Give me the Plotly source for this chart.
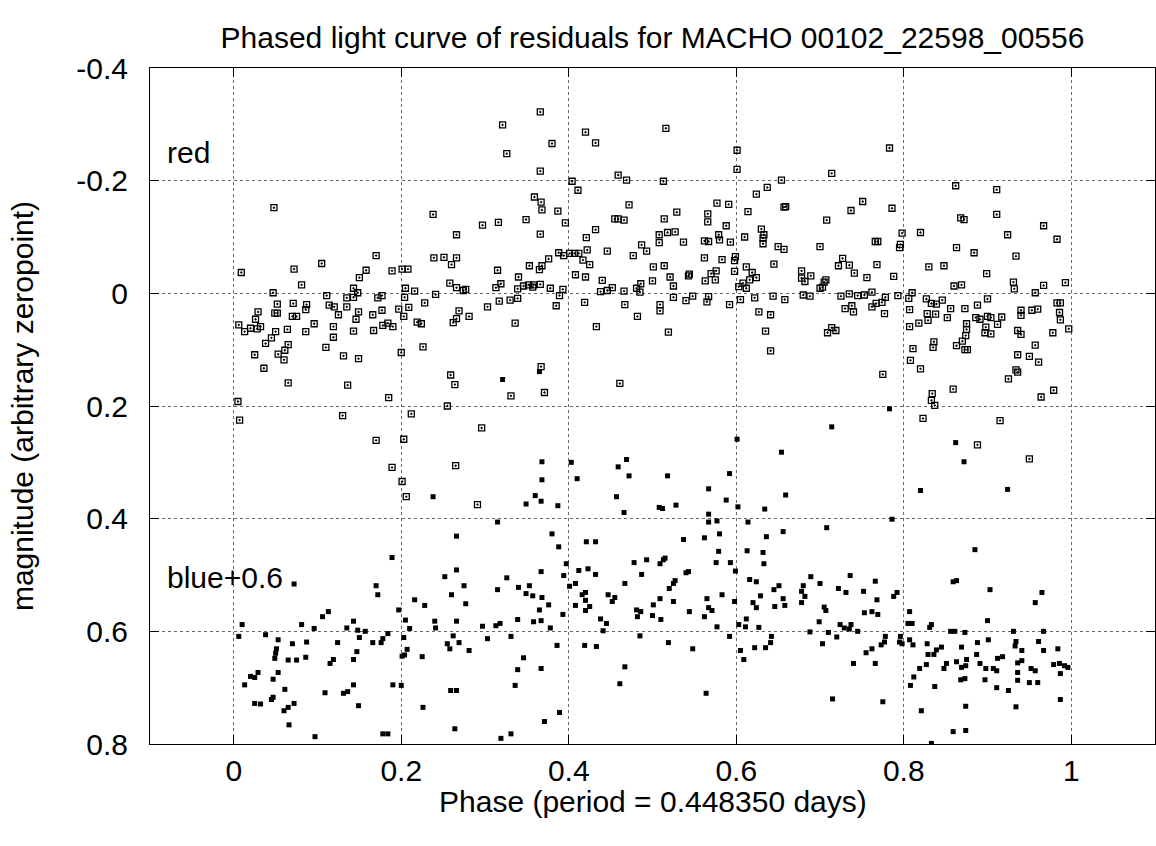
import plotly.graph_objects as go

# (phase, magnitude) for the "red" band
red_pts = [
    (0.048,-0.152),(0.105,-0.053),(0.009,-0.037),(0.072,-0.043),(0.081,-0.015),(0.047,-0.001),(0.052,0.019),(0.071,0.018),
    (0.087,0.020),(0.086,0.029),(0.029,0.033),(0.049,0.035),(0.052,0.035),(0.070,0.041),(0.075,0.041),(0.026,0.046),
    (0.096,0.054),(0.006,0.056),(0.013,0.068),(0.020,0.062),(0.028,0.063),(0.032,0.059),(0.050,0.068),(0.064,0.064),
    (0.086,0.068),(0.045,0.079),(0.038,0.089),(0.065,0.091),(0.061,0.101),(0.053,0.108),(0.025,0.109),(0.060,0.118),
    (0.036,0.133),(0.065,0.159),(0.005,0.192),(0.007,0.225),
    (0.238,-0.140),(0.297,-0.121),(0.266,-0.104),(0.170,-0.067),(0.239,-0.063),(0.251,-0.064),(0.266,-0.063),(0.260,-0.051),
    (0.158,-0.041),(0.150,-0.028),(0.189,-0.040),(0.201,-0.043),(0.208,-0.043),(0.143,-0.009),(0.148,-0.001),(0.135,0.008),
    (0.143,0.007),(0.111,0.004),(0.177,0.004),(0.172,0.008),(0.205,-0.009),(0.216,-0.004),(0.204,0.007),(0.241,0.002),
    (0.258,-0.018),(0.266,-0.010),(0.274,-0.005),(0.277,-0.007),(0.228,0.017),(0.303,0.024),(0.114,0.021),(0.120,0.024),
    (0.135,0.024),(0.125,0.038),(0.149,0.033),(0.146,0.046),(0.166,0.038),(0.177,0.030),(0.197,0.028),(0.209,0.025),
    (0.203,0.041),(0.178,0.057),(0.184,0.053),(0.190,0.059),(0.219,0.051),(0.224,0.054),(0.269,0.031),(0.266,0.045),
    (0.262,0.052),(0.281,0.041),(0.119,0.059),(0.119,0.078),(0.143,0.067),(0.167,0.066),(0.110,0.096),(0.131,0.111),
    (0.149,0.116),(0.200,0.105),(0.226,0.095),(0.259,0.145),(0.264,0.162),(0.136,0.163),(0.185,0.185),(0.255,0.200),
    (0.130,0.217),(0.212,0.214),(0.296,0.239),(0.170,0.261),(0.203,0.259),(0.189,0.309),(0.265,0.306),(0.201,0.334),
    (0.206,0.361),(0.291,0.375),
    (0.366,-0.322),(0.321,-0.299),(0.420,-0.286),(0.432,-0.267),(0.380,-0.266),(0.326,-0.248),(0.366,-0.217),(0.404,-0.199),
    (0.459,-0.210),(0.469,-0.201),(0.411,-0.183),(0.359,-0.171),(0.367,-0.162),(0.368,-0.148),(0.387,-0.146),(0.472,-0.157),
    (0.316,-0.126),(0.349,-0.131),(0.396,-0.125),(0.455,-0.132),(0.459,-0.132),(0.466,-0.130),(0.366,-0.105),(0.432,-0.113),
    (0.421,-0.099),(0.487,-0.086),(0.493,-0.075),(0.446,-0.075),(0.422,-0.077),(0.477,-0.067),(0.388,-0.072),(0.394,-0.067),
    (0.401,-0.071),(0.407,-0.071),(0.412,-0.071),(0.376,-0.061),(0.417,-0.059),(0.425,-0.051),(0.353,-0.049),(0.368,-0.049),
    (0.365,-0.042),(0.315,-0.041),(0.501,-0.047),(0.408,-0.033),(0.420,-0.029),(0.340,-0.029),(0.319,-0.017),(0.313,-0.010),
    (0.346,-0.013),(0.352,-0.015),(0.358,-0.015),(0.366,-0.016),(0.357,-0.011),(0.339,-0.008),(0.339,0.009),(0.378,-0.009),
    (0.393,-0.007),(0.389,0.004),(0.440,-0.023),(0.438,-0.003),(0.446,-0.005),(0.452,-0.010),(0.466,-0.004),(0.481,-0.009),
    (0.486,-0.017),(0.485,-0.002),(0.500,-0.022),(0.317,0.014),(0.330,0.012),(0.385,0.022),(0.419,0.016),(0.467,0.020),
    (0.482,0.041),(0.336,0.053),(0.433,0.059),(0.367,0.130),(0.331,0.182),(0.371,0.176),(0.461,0.160),
    (0.516,-0.293),(0.601,-0.254),(0.601,-0.220),(0.513,-0.199),(0.654,-0.201),(0.637,-0.188),(0.624,-0.176),(0.577,-0.160),
    (0.591,-0.158),(0.529,-0.144),(0.514,-0.132),(0.566,-0.141),(0.566,-0.127),(0.614,-0.145),(0.657,-0.153),(0.659,-0.154),
    (0.588,-0.120),(0.508,-0.104),(0.508,-0.090),(0.518,-0.108),(0.527,-0.109),(0.537,-0.091),(0.562,-0.093),(0.567,-0.092),
    (0.579,-0.104),(0.580,-0.095),(0.593,-0.091),(0.610,-0.100),(0.630,-0.114),(0.633,-0.104),(0.632,-0.098),(0.632,-0.088),
    (0.650,-0.083),(0.657,-0.078),(0.700,-0.083),(0.562,-0.063),(0.583,-0.060),(0.599,-0.065),(0.598,-0.058),(0.645,-0.052),
    (0.514,-0.049),(0.521,-0.029),(0.525,-0.013),(0.543,-0.031),(0.544,-0.034),(0.563,-0.022),(0.570,-0.035),(0.576,-0.040),
    (0.575,-0.024),(0.598,-0.039),(0.612,-0.047),(0.619,-0.037),(0.624,-0.028),(0.616,-0.024),(0.608,-0.018),(0.603,-0.012),
    (0.612,-0.009),(0.678,-0.040),(0.678,-0.027),(0.682,-0.021),(0.689,-0.031),(0.700,-0.009),(0.509,0.020),(0.509,0.031),
    (0.525,0.007),(0.540,0.013),(0.548,0.005),(0.565,0.015),(0.567,0.006),(0.592,0.020),(0.605,0.011),(0.622,0.008),
    (0.627,0.033),(0.641,0.038),(0.644,0.005),(0.658,0.011),(0.680,0.003),(0.688,0.005),(0.519,0.069),(0.635,0.067),
    (0.641,0.102),
    (0.783,-0.258),(0.714,-0.213),(0.862,-0.191),(0.751,-0.163),(0.737,-0.147),(0.786,-0.151),(0.708,-0.130),(0.868,-0.134),
    (0.872,-0.131),(0.798,-0.107),(0.820,-0.108),(0.766,-0.092),(0.769,-0.092),(0.796,-0.087),(0.795,-0.081),(0.863,-0.081),
    (0.884,-0.072),(0.727,-0.062),(0.722,-0.049),(0.735,-0.050),(0.768,-0.051),(0.741,-0.036),(0.756,-0.028),(0.788,-0.030),
    (0.830,-0.047),(0.848,-0.049),(0.899,-0.035),(0.707,-0.024),(0.705,-0.020),(0.703,-0.011),(0.860,-0.013),(0.869,-0.015),
    (0.725,0.005),(0.735,0.001),(0.745,0.004),(0.753,0.003),(0.762,-0.002),(0.778,0.007),(0.793,0.004),(0.810,-0.001),
    (0.806,0.009),(0.730,0.027),(0.738,0.022),(0.740,0.033),(0.762,0.024),(0.767,0.018),(0.774,0.016),(0.777,0.036),
    (0.807,0.029),(0.827,0.010),(0.833,0.018),(0.839,0.019),(0.846,0.012),(0.856,0.027),(0.873,0.027),(0.888,0.021),
    (0.900,0.010),(0.828,0.036),(0.838,0.037),(0.829,0.048),(0.818,0.053),(0.807,0.059),(0.852,0.043),(0.886,0.043),
    (0.891,0.046),(0.900,0.041),(0.904,0.043),(0.875,0.054),(0.875,0.064),(0.874,0.075),(0.898,0.060),(0.897,0.070),
    (0.709,0.070),(0.714,0.061),(0.719,0.066),(0.870,0.085),(0.863,0.093),(0.873,0.100),(0.876,0.100),(0.836,0.086),
    (0.835,0.096),(0.811,0.098),(0.808,0.119),(0.820,0.134),(0.775,0.144),(0.859,0.170),(0.834,0.178),(0.833,0.190),
    (0.837,0.199),(0.823,0.222),(0.888,0.269),
    (0.911,-0.184),(0.911,-0.140),(0.967,-0.120),(0.924,-0.104),(0.983,-0.096),(0.934,-0.066),(0.931,-0.020),(0.932,-0.008),
    (0.967,-0.014),(0.993,-0.019),(0.957,-0.001),(0.983,0.017),(0.987,0.017),(0.940,0.030),(0.940,0.039),(0.953,0.030),
    (0.960,0.028),(0.986,0.034),(0.987,0.047),(0.917,0.042),(0.912,0.055),(0.904,0.072),(0.997,0.063),(0.936,0.066),
    (0.940,0.073),(0.978,0.070),(0.957,0.092),(0.936,0.109),(0.950,0.112),(0.961,0.122),(0.934,0.136),(0.936,0.140),
    (0.925,0.152),(0.979,0.172),(0.964,0.184),(0.915,0.226),(0.950,0.294),
]

# (phase, magnitude + 0.6) for the "blue" band
blue_pts = [
    (0.072,0.516),(0.010,0.588),(0.081,0.588),(0.096,0.595),(0.006,0.609),(0.038,0.606),(0.053,0.615),(0.070,0.622),
    (0.087,0.619),(0.051,0.631),(0.050,0.639),(0.049,0.648),(0.065,0.651),(0.075,0.651),(0.086,0.646),(0.029,0.673),
    (0.020,0.680),(0.025,0.682),(0.053,0.673),(0.047,0.685),(0.013,0.695),(0.061,0.703),(0.025,0.728),(0.032,0.729),
    (0.045,0.721),(0.047,0.717),(0.060,0.741),(0.065,0.735),(0.072,0.728),(0.066,0.766),(0.097,0.787),
    (0.238,0.361),(0.266,0.431),(0.189,0.469),(0.266,0.491),(0.252,0.503),(0.170,0.519),(0.275,0.519),(0.172,0.535),
    (0.260,0.535),(0.216,0.544),(0.228,0.554),(0.277,0.551),(0.197,0.562),(0.106,0.574),(0.113,0.565),(0.143,0.582),
    (0.205,0.580),(0.240,0.582),(0.266,0.582),(0.297,0.591),(0.135,0.594),(0.148,0.598),(0.157,0.600),(0.210,0.595),
    (0.241,0.594),(0.184,0.604),(0.150,0.611),(0.178,0.613),(0.262,0.608),(0.303,0.613),(0.124,0.620),(0.166,0.620),
    (0.176,0.620),(0.203,0.611),(0.255,0.622),(0.269,0.620),(0.147,0.636),(0.207,0.632),(0.204,0.642),(0.201,0.644),
    (0.258,0.631),(0.281,0.634),(0.119,0.650),(0.115,0.657),(0.143,0.650),(0.225,0.645),(0.143,0.695),(0.190,0.695),
    (0.200,0.696),(0.109,0.709),(0.131,0.710),(0.136,0.707),(0.259,0.705),(0.266,0.705),(0.149,0.732),(0.226,0.735),
    (0.178,0.782),(0.184,0.782),(0.264,0.773),
    (0.321,0.153),(0.365,0.139),
    (0.368,0.299),(0.403,0.300),(0.469,0.295),(0.459,0.308),(0.472,0.324),(0.410,0.329),(0.368,0.331),(0.360,0.359),
    (0.367,0.369),(0.349,0.374),(0.387,0.377),(0.457,0.361),(0.466,0.389),(0.315,0.406),(0.380,0.427),(0.388,0.450),
    (0.421,0.441),(0.432,0.441),(0.397,0.480),(0.367,0.494),(0.394,0.501),(0.412,0.492),(0.423,0.489),(0.432,0.499),
    (0.478,0.478),(0.493,0.473),(0.487,0.499),(0.326,0.505),(0.315,0.526),(0.340,0.522),(0.353,0.519),(0.349,0.533),
    (0.357,0.537),(0.368,0.540),(0.401,0.520),(0.408,0.515),(0.416,0.535),(0.420,0.531),(0.420,0.545),(0.467,0.515),
    (0.447,0.535),(0.455,0.540),(0.452,0.547),(0.376,0.553),(0.365,0.562),(0.408,0.554),(0.425,0.556),(0.420,0.563),
    (0.393,0.570),(0.501,0.553),(0.481,0.562),(0.486,0.565),(0.482,0.574),(0.500,0.572),(0.313,0.590),(0.318,0.586),
    (0.339,0.579),(0.358,0.583),(0.367,0.581),(0.378,0.594),(0.438,0.578),(0.445,0.586),(0.441,0.599),(0.331,0.609),
    (0.386,0.625),(0.419,0.625),(0.433,0.627),(0.485,0.608),(0.346,0.647),(0.339,0.668),(0.367,0.666),(0.467,0.663),
    (0.336,0.696),(0.461,0.693),(0.389,0.744),(0.371,0.760),(0.331,0.782),(0.319,0.790),
    (0.601,0.259),(0.654,0.282),(0.518,0.324),(0.592,0.320),(0.567,0.347),(0.588,0.367),(0.602,0.379),(0.659,0.358),
    (0.508,0.380),(0.512,0.382),(0.528,0.376),(0.567,0.392),(0.567,0.406),(0.577,0.404),(0.614,0.406),(0.634,0.383),
    (0.537,0.437),(0.562,0.434),(0.580,0.427),(0.636,0.432),(0.656,0.423),(0.579,0.458),(0.613,0.457),(0.632,0.460),
    (0.515,0.470),(0.513,0.473),(0.509,0.480),(0.576,0.478),(0.593,0.478),(0.633,0.480),(0.540,0.496),(0.543,0.494),
    (0.599,0.493),(0.527,0.510),(0.525,0.515),(0.520,0.524),(0.616,0.508),(0.624,0.512),(0.689,0.503),(0.700,0.515),
    (0.651,0.519),(0.645,0.526),(0.680,0.519),(0.678,0.529),(0.682,0.538),(0.509,0.542),(0.525,0.547),(0.583,0.535),
    (0.565,0.542),(0.598,0.547),(0.629,0.537),(0.620,0.549),(0.624,0.558),(0.567,0.558),(0.571,0.563),(0.544,0.565),
    (0.562,0.574),(0.656,0.542),(0.658,0.554),(0.646,0.556),(0.678,0.549),(0.510,0.579),(0.612,0.578),(0.603,0.588),
    (0.611,0.592),(0.627,0.593),(0.577,0.592),(0.699,0.583),(0.688,0.601),(0.592,0.609),(0.642,0.609),(0.641,0.620),
    (0.635,0.629),(0.622,0.629),(0.519,0.620),(0.548,0.631),(0.605,0.634),(0.609,0.650),(0.703,0.622),(0.564,0.710),
    (0.783,0.205),(0.714,0.237),(0.862,0.265),(0.872,0.299),(0.820,0.350),(0.786,0.401),(0.708,0.416),(0.885,0.455),
    (0.736,0.501),(0.766,0.511),(0.859,0.512),(0.863,0.510),(0.903,0.526),(0.722,0.524),(0.731,0.531),(0.752,0.529),
    (0.792,0.531),(0.788,0.538),(0.768,0.544),(0.705,0.557),(0.707,0.563),(0.753,0.567),(0.762,0.565),(0.769,0.570),
    (0.807,0.565),(0.805,0.586),(0.810,0.586),(0.833,0.588),(0.831,0.593),(0.900,0.581),(0.724,0.588),(0.729,0.594),
    (0.737,0.588),(0.735,0.596),(0.710,0.602),(0.745,0.600),(0.856,0.600),(0.861,0.600),(0.873,0.602),(0.720,0.610),
    (0.778,0.609),(0.777,0.619),(0.773,0.624),(0.796,0.609),(0.795,0.619),(0.798,0.622),(0.807,0.615),(0.811,0.624),
    (0.828,0.622),(0.888,0.620),(0.901,0.615),(0.762,0.631),(0.755,0.638),(0.845,0.628),(0.839,0.633),(0.836,0.641),
    (0.829,0.641),(0.869,0.628),(0.887,0.641),(0.740,0.657),(0.766,0.657),(0.827,0.659),(0.819,0.666),(0.851,0.657),
    (0.848,0.666),(0.863,0.654),(0.875,0.650),(0.874,0.661),(0.869,0.664),(0.891,0.657),(0.898,0.666),(0.812,0.681),
    (0.808,0.696),(0.837,0.698),(0.868,0.686),(0.873,0.684),(0.897,0.686),(0.715,0.720),(0.775,0.725),(0.821,0.741),
    (0.874,0.733),(0.859,0.778),(0.874,0.776),(0.833,0.799),
    (0.924,0.348),(0.965,0.531),(0.957,0.549),(0.931,0.600),(0.967,0.600),(0.934,0.618),(0.933,0.626),(0.961,0.618),
    (0.941,0.634),(0.967,0.634),(0.984,0.631),(0.912,0.648),(0.918,0.645),(0.936,0.656),(0.941,0.652),(0.979,0.659),
    (0.986,0.657),(0.992,0.661),(0.996,0.664),(0.907,0.666),(0.911,0.670),(0.936,0.673),(0.952,0.666),(0.957,0.670),
    (0.987,0.675),(0.936,0.687),(0.950,0.691),(0.960,0.691),(0.911,0.700),(0.925,0.705),(0.987,0.721),(0.934,0.734),
]

x_ticks = [0, 0.2, 0.4, 0.6, 0.8, 1]
x_ticktext = ["0", "0.2", "0.4", "0.6", "0.8", "1"]
y_ticks = [-0.4, -0.2, 0, 0.2, 0.4, 0.6, 0.8]
y_ticktext = ["-0.4", "-0.2", "0", "0.2", "0.4", "0.6", "0.8"]

title_text = "Phased light curve of residuals for MACHO 00102_22598_00556"
x_title = "Phase (period = 0.448350 days)"
y_title = "magnitude (arbitrary zeropoint)"

FONT = "Liberation Sans, Arial, Helvetica, sans-serif"
FS = 30

red_x = [p[0] for p in red_pts]
red_y = [p[1] for p in red_pts]
blue_x = [p[0] for p in blue_pts]
blue_y = [p[1] for p in blue_pts]

fig = go.Figure()
fig.add_trace(go.Scatter(
    x=red_x, y=red_y, mode="markers", name="red",
    marker=dict(symbol="square-open-dot", size=6, color="black",
                line=dict(width=1.3, color="black")),
))
fig.add_trace(go.Scatter(
    x=blue_x, y=blue_y, mode="markers", name="blue+0.6",
    marker=dict(symbol="square", size=5, color="black",
                line=dict(width=0)),
))

axis_common = dict(
    showline=True, linecolor="black", linewidth=1, mirror="ticks",
    ticks="inside", ticklen=9, tickwidth=1, tickcolor="black",
    showgrid=True, gridcolor="#666666", gridwidth=1, griddash="dot",
    zeroline=False, tickfont=dict(family=FONT, size=FS, color="black"),
)

fig.update_xaxes(
    range=[-0.1, 1.1], tickmode="array", tickvals=x_ticks, ticktext=x_ticktext,
    ticklabelstandoff=0, **axis_common,
)
fig.update_yaxes(
    range=[0.8, -0.4], tickmode="array", tickvals=y_ticks, ticktext=y_ticktext,
    title=dict(text=y_title, font=dict(family=FONT, size=FS, color="black"), standoff=33),
    ticklabelstandoff=15, **axis_common,
)

# x-axis title placed just under the tick labels
fig.add_annotation(x=0.5, xref="paper", y=0, yref="paper", yshift=-57,
                   text=x_title, showarrow=False, xanchor="center", yanchor="middle",
                   borderpad=0, font=dict(family=FONT, size=FS, color="black"))

fig.add_annotation(x=-0.082, y=-0.25, text="red", showarrow=False, xanchor="left",
                   yanchor="middle", font=dict(family=FONT, size=FS, color="black"))
fig.add_annotation(x=-0.082, y=0.505, text="blue+0.6", showarrow=False, xanchor="left",
                   yanchor="middle", font=dict(family=FONT, size=FS, color="black"))

fig.update_layout(
    width=1156, height=846,
    margin=dict(l=150, r=1, t=68, b=102),
    paper_bgcolor="white", plot_bgcolor="white",
    showlegend=False,
    title=dict(text=title_text, x=0.5, xref="paper", xanchor="center",
               y=1 - 37 / 846, yref="container", yanchor="middle",
               font=dict(family=FONT, size=FS, color="black")),
)

fig.write_html(
    "out.html",
    config={"displayModeBar": False},
    post_script="document.body.style.margin='0';document.body.style.overflow='hidden';",
)
